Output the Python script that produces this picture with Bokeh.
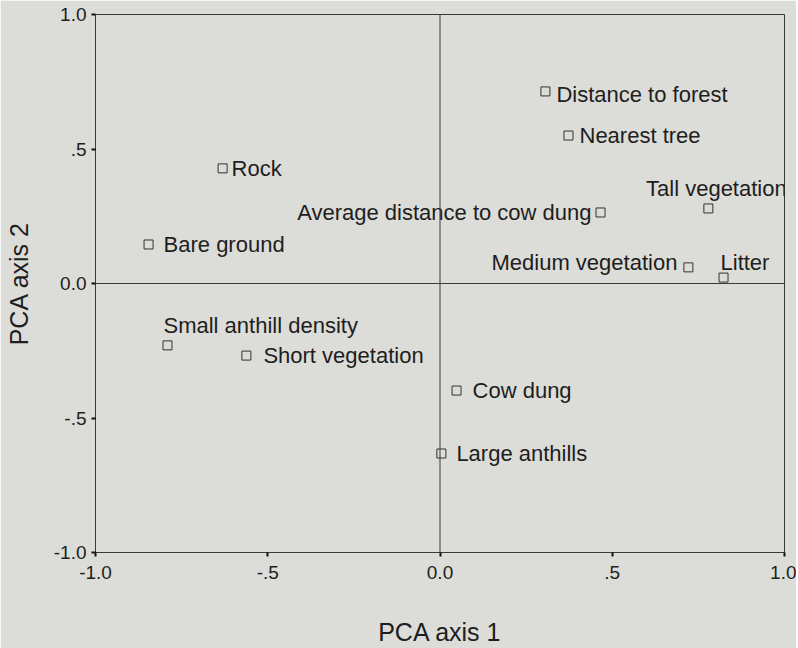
from bokeh.plotting import figure
from bokeh.models import ColumnDataSource, Range1d, FixedTicker, Span
from bokeh.core.properties import value
from bokeh.embed import file_html
from bokeh.resources import INLINE

# ---- data ----
variables = ["Distance to forest", "Nearest tree", "Rock", "Average distance to cow dung",
             "Tall vegetation", "Bare ground", "Medium vegetation", "Litter",
             "Small anthill density", "Short vegetation", "Cow dung", "Large anthills"]
pc1 = [0.306, 0.373, -0.631, 0.466, 0.779, -0.846, 0.721, 0.823, -0.791, -0.562, 0.048, 0.004]
pc2 = [0.714, 0.550, 0.428, 0.264, 0.279, 0.145, 0.060, 0.022, -0.230, -0.268, -0.398, -0.632]
ticks = [-1.0, -0.5, 0.0, 0.5, 1.0]
tick_labels = ["-1.0", "-.5", "0.0", ".5", "1.0"]

# ---- label placement (style) ----
label_dx = [11, 11, 9, -9, 8, 15, -11, -3, -4, 17, 16, 15]
label_dy = [3, 0, 0, 0, -20, 0, -5, -15, -20, 0, 0, 0]
label_align = ["left", "left", "left", "right", "center", "left", "right", "left",
               "left", "left", "left", "left"]

BG = "#dcdcd8"
FONT = "Liberation Sans"
INK = "#1e1e1e"

src = ColumnDataSource(dict(x=pc1, y=pc2, name=variables, dx=label_dx, dy=label_dy,
                            align=label_align))

p = figure(frame_width=689, frame_height=538, output_backend="svg", toolbar_location=None,
           x_range=Range1d(-1, 1), y_range=Range1d(-1, 1),
           min_border_left=95, min_border_top=14, min_border_right=12, min_border_bottom=94,
           background_fill_color=BG, border_fill_color=BG)

p.grid.visible = False
p.outline_line_color = "#3a3a3a"
p.outline_line_width = 1

for ax in (p.xaxis, p.yaxis):
    ax.ticker = FixedTicker(ticks=ticks, minor_ticks=[])
    ax.major_label_overrides = {t: l for t, l in zip(ticks, tick_labels)}
    ax.major_label_text_font = FONT
    ax.major_label_text_font_size = "19px"
    ax.major_label_text_color = INK
    ax.axis_label_text_font = FONT
    ax.axis_label_text_font_size = "25px"
    ax.axis_label_text_font_style = "normal"
    ax.axis_label_text_color = INK
    ax.axis_line_color = "#3a3a3a"
    ax.major_tick_line_color = "#111111"
    ax.major_tick_line_width = 2
    ax.major_tick_out = 4
    ax.major_tick_in = 0
    ax.minor_tick_line_color = None

p.xaxis.axis_label = "PCA axis 1"
p.yaxis.axis_label = "PCA axis 2"
p.xaxis.major_label_standoff = 9
p.xaxis.axis_label_standoff = 36
p.yaxis.major_label_standoff = 5
p.yaxis.axis_label_standoff = 18

p.add_layout(Span(location=0, dimension="height", line_color="#3a3a3a", line_width=1))
p.add_layout(Span(location=0, dimension="width", line_color="#3a3a3a", line_width=1))

p.scatter("x", "y", source=src, marker="square", size=9, fill_color=None,
          line_color="#333333", line_width=1)

p.text("x", "y", text="name", source=src, x_offset="dx", y_offset="dy",
       text_align="align", text_baseline="middle",
       text_font=value(FONT), text_font_size="22px", text_color=INK)

open("out.html", "w").write(file_html(p, INLINE))
